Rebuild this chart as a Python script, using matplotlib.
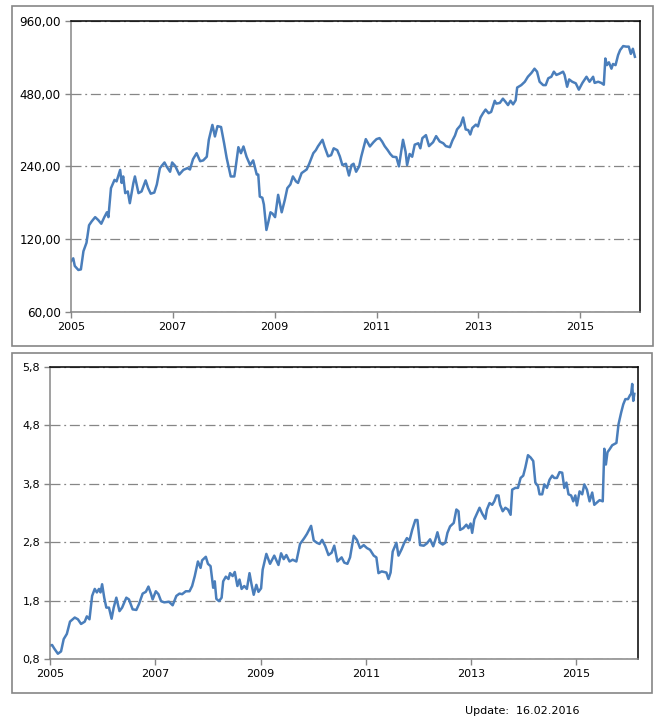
import matplotlib.pyplot as plt
from matplotlib.patches import Rectangle
from matplotlib.ticker import FixedLocator, FuncFormatter, NullLocator

# top chart: index level (log scale)
top_years = [2005.0, 2005.05, 2005.08, 2005.15, 2005.2, 2005.25, 2005.31, 2005.36, 2005.41, 2005.48,
             2005.54, 2005.6, 2005.66, 2005.71, 2005.74, 2005.79, 2005.86, 2005.9, 2005.93, 2005.97,
             2006.0, 2006.03, 2006.07, 2006.12, 2006.16, 2006.23, 2006.26, 2006.33, 2006.39, 2006.47,
             2006.52, 2006.57, 2006.64, 2006.69, 2006.75, 2006.84, 2006.88, 2006.95, 2006.99, 2007.05,
             2007.13, 2007.21, 2007.29, 2007.34, 2007.4, 2007.47, 2007.54, 2007.6, 2007.67, 2007.71,
             2007.78, 2007.83, 2007.88, 2007.95, 2008.01, 2008.06, 2008.14, 2008.21, 2008.23, 2008.29,
             2008.34, 2008.39, 2008.45, 2008.52, 2008.58, 2008.65, 2008.68, 2008.71, 2008.76, 2008.79,
             2008.84, 2008.88, 2008.92, 2008.96, 2009.01, 2009.07, 2009.14, 2009.2, 2009.25, 2009.31,
             2009.36, 2009.42, 2009.46, 2009.53, 2009.63, 2009.68, 2009.76, 2009.81, 2009.85, 2009.94,
             2009.98, 2010.05, 2010.11, 2010.16, 2010.23, 2010.28, 2010.33, 2010.4, 2010.46, 2010.51,
             2010.55, 2010.6, 2010.66, 2010.7, 2010.79, 2010.87, 2010.94, 2011.0, 2011.06, 2011.11,
             2011.16, 2011.22, 2011.27, 2011.32, 2011.39, 2011.44, 2011.49, 2011.52, 2011.57, 2011.6,
             2011.65, 2011.7, 2011.75, 2011.82, 2011.86, 2011.9, 2011.97, 2012.03, 2012.11, 2012.17,
             2012.24, 2012.31, 2012.36, 2012.44, 2012.49, 2012.54, 2012.58, 2012.65, 2012.7, 2012.75,
             2012.8, 2012.84, 2012.88, 2012.95, 2012.99, 2013.04, 2013.09, 2013.14, 2013.2, 2013.25,
             2013.32, 2013.35, 2013.42, 2013.48, 2013.53, 2013.58, 2013.63, 2013.68, 2013.73, 2013.76,
             2013.84, 2013.91, 2013.97, 2014.04, 2014.1, 2014.15, 2014.2, 2014.27, 2014.32, 2014.37,
             2014.43, 2014.48, 2014.53, 2014.59, 2014.66, 2014.69, 2014.74, 2014.78, 2014.84, 2014.91,
             2014.97, 2015.04, 2015.12, 2015.18, 2015.25, 2015.28, 2015.35, 2015.41, 2015.46, 2015.49,
             2015.52, 2015.56, 2015.61, 2015.64, 2015.69, 2015.74, 2015.78, 2015.84, 2015.9, 2015.95,
             2015.99, 2016.03, 2016.07]
top_values = [97, 100, 93, 89.5, 90, 107, 116, 137, 142, 148,
              144, 139, 148, 155, 148, 195, 211, 208, 218, 232,
              205, 218, 186, 189, 169, 205, 218, 186, 189, 210,
              195, 185, 187, 202, 236, 249, 240, 228, 249, 241,
              222, 232, 236, 233, 257, 272, 252, 254, 263, 309,
              356, 319, 352, 349, 299, 260, 218, 218, 232, 288,
              272, 290, 263, 243, 254, 222, 222, 180, 178, 167,
              131, 142, 155, 153, 148, 183, 155, 174, 195, 202,
              218, 208, 205, 225, 233, 246, 272, 280, 290, 309,
              290, 264, 267, 285, 280, 264, 243, 246, 220, 243,
              246, 228, 240, 263, 311, 290, 302, 311, 314, 304,
              291, 280, 270, 263, 262, 240, 280, 309, 276, 243,
              270, 263, 295, 299, 285, 314, 323, 291, 302, 320,
              304, 299, 291, 288, 307, 322, 341, 355, 382, 341,
              339, 325, 346, 357, 351, 382, 398, 412, 398, 403,
              448, 436, 439, 457, 444, 430, 448, 433, 450, 508,
              520, 537, 563, 584, 608, 591, 537, 520, 520, 555,
              563, 591, 573, 580, 591, 573, 512, 549, 537, 529,
              498, 531, 563, 537, 563, 531, 537, 531, 522, 670,
              629, 646, 608, 636, 629, 692, 726, 754, 750, 750,
              700, 735, 681]

# bottom chart: ratio (linear scale)
bot_years = [2005.0, 2005.04, 2005.08, 2005.15, 2005.21, 2005.26, 2005.32, 2005.38, 2005.47, 2005.53,
             2005.59, 2005.66, 2005.7, 2005.75, 2005.8, 2005.85, 2005.89, 2005.93, 2005.96, 2005.99,
             2006.03, 2006.07, 2006.12, 2006.17, 2006.21, 2006.26, 2006.32, 2006.37, 2006.45, 2006.5,
             2006.57, 2006.64, 2006.69, 2006.76, 2006.82, 2006.87, 2006.92, 2006.95, 2007.01, 2007.06,
             2007.11, 2007.17, 2007.26, 2007.33, 2007.4, 2007.46, 2007.51, 2007.58, 2007.65, 2007.7,
             2007.75, 2007.81, 2007.86, 2007.89, 2007.96, 2008.0, 2008.05, 2008.1, 2008.13, 2008.16,
             2008.21, 2008.26, 2008.29, 2008.34, 2008.39, 2008.42, 2008.47, 2008.51, 2008.56, 2008.6,
             2008.64, 2008.69, 2008.74, 2008.79, 2008.83, 2008.87, 2008.92, 2008.96, 2009.01, 2009.04,
             2009.11, 2009.18, 2009.26, 2009.34, 2009.39, 2009.44, 2009.49, 2009.55, 2009.61, 2009.68,
             2009.75, 2009.83, 2009.88, 2009.96, 2010.01, 2010.07, 2010.12, 2010.17, 2010.23, 2010.29,
             2010.35, 2010.4, 2010.46, 2010.54, 2010.59, 2010.65, 2010.7, 2010.77, 2010.83, 2010.89,
             2010.96, 2011.02, 2011.08, 2011.15, 2011.2, 2011.24, 2011.3, 2011.39, 2011.43, 2011.47,
             2011.51, 2011.58, 2011.62, 2011.68, 2011.73, 2011.78, 2011.83, 2011.88, 2011.94, 2011.98,
             2012.03, 2012.1, 2012.16, 2012.22, 2012.28, 2012.32, 2012.36, 2012.41, 2012.46, 2012.51,
             2012.55, 2012.6, 2012.67, 2012.72, 2012.76, 2012.79, 2012.85, 2012.91, 2012.95, 2012.99,
             2013.02, 2013.06, 2013.11, 2013.16, 2013.21, 2013.27, 2013.3, 2013.35, 2013.4, 2013.44,
             2013.48, 2013.52, 2013.55, 2013.6, 2013.65, 2013.7, 2013.75, 2013.78, 2013.84, 2013.89,
             2013.94, 2013.99, 2014.03, 2014.08, 2014.13, 2014.18, 2014.22, 2014.27, 2014.3, 2014.35,
             2014.39, 2014.44, 2014.49, 2014.54, 2014.58, 2014.63, 2014.68, 2014.73, 2014.77, 2014.81,
             2014.85, 2014.9, 2014.94, 2014.98, 2015.01, 2015.06, 2015.11, 2015.15, 2015.2, 2015.25,
             2015.3, 2015.34, 2015.39, 2015.44, 2015.5, 2015.53, 2015.56, 2015.59, 2015.63, 2015.68,
             2015.72, 2015.76, 2015.8, 2015.85, 2015.89, 2015.93, 2015.98, 2016.02, 2016.04, 2016.06,
             2016.08, 2016.1]
bot_values = [1.03, 1.04, 0.98, 0.89, 0.93, 1.14, 1.23, 1.44, 1.51, 1.48,
              1.40, 1.44, 1.53, 1.48, 1.88, 2.0, 1.94, 2.0, 1.94, 2.08,
              1.85, 1.68, 1.68, 1.49, 1.68, 1.85, 1.62, 1.68, 1.85, 1.82,
              1.65, 1.64, 1.74, 1.92, 1.95, 2.04, 1.91, 1.82, 1.96, 1.91,
              1.79, 1.77, 1.78, 1.72, 1.88, 1.92, 1.91, 1.96, 1.96, 2.05,
              2.22, 2.47, 2.36, 2.49, 2.55, 2.43, 2.39, 2.02, 2.13, 1.83,
              1.79, 1.85, 2.13, 2.21, 2.17, 2.27, 2.22, 2.29, 2.05, 2.16,
              2.0, 2.05, 2.0, 2.27, 2.07, 1.90, 2.07, 1.95, 2.01, 2.33,
              2.6, 2.43, 2.57, 2.41, 2.61, 2.51, 2.58, 2.47, 2.50, 2.47,
              2.77, 2.87, 2.94, 3.08, 2.83, 2.79, 2.77, 2.84, 2.73, 2.58,
              2.62, 2.74, 2.47, 2.54, 2.45, 2.43, 2.54, 2.91, 2.84, 2.70,
              2.75, 2.70, 2.67, 2.57, 2.54, 2.27, 2.30, 2.28, 2.17, 2.28,
              2.64, 2.79, 2.57, 2.68, 2.79, 2.87, 2.83, 3.01, 3.18, 3.18,
              2.75, 2.74, 2.78, 2.85, 2.73, 2.84, 2.97, 2.79, 2.76, 2.79,
              2.96, 3.07, 3.13, 3.36, 3.33, 3.01, 3.04, 3.10, 3.04, 3.12,
              2.96, 3.19, 3.29, 3.39, 3.29, 3.20, 3.36, 3.47, 3.44, 3.50,
              3.60, 3.60, 3.44, 3.33, 3.39, 3.36, 3.27, 3.70, 3.73, 3.73,
              3.90, 3.94, 4.08, 4.29, 4.25, 4.19, 3.82, 3.76, 3.62, 3.62,
              3.79, 3.73, 3.87, 3.94, 3.90, 3.90, 4.00, 3.99, 3.73, 3.82,
              3.62, 3.60, 3.50, 3.60, 3.43, 3.67, 3.62, 3.79, 3.70, 3.50,
              3.65, 3.44, 3.48, 3.52, 3.50, 4.40, 4.13, 4.34, 4.39, 4.46,
              4.48, 4.50, 4.82, 5.02, 5.16, 5.25, 5.25, 5.32, 5.34, 5.51,
              5.22, 5.34]

x_ticks = [2005, 2007, 2009, 2011, 2013, 2015]
top_ticks = [60, 120, 240, 480, 960]
bot_ticks = [0.8, 1.8, 2.8, 3.8, 4.8, 5.8]
update_text = 'Update:  16.02.2016'

line_col = '#4a7ebb'
grey = '#868686'
plt.rcParams['font.family'] = 'DejaVu Sans'

fig = plt.figure(figsize=(6.7, 7.21), dpi=100)

# outer frames of the two chart panels
for (x0, y0, x1, y1) in [(12, 6, 653, 346), (12, 353, 652, 693)]:
    fig.patches.append(Rectangle((x0 / 670, 1 - y1 / 721), (x1 - x0) / 670, (y1 - y0) / 721,
                                 transform=fig.transFigure, fill=False, ec=grey, lw=1.2))


def style(ax, ticks, fmt, ysize):
    ax.set_xlim(2005, 2016.17)
    ax.xaxis.set_major_locator(FixedLocator(x_ticks))
    ax.xaxis.set_major_formatter(FuncFormatter(lambda v, p: '%d' % v))
    ax.yaxis.set_major_locator(FixedLocator(ticks))
    ax.yaxis.set_minor_locator(NullLocator())
    ax.yaxis.set_major_formatter(FuncFormatter(lambda v, p: (fmt % v).replace('.', ',')))
    ax.grid(axis='y', color=grey, ls=(0, (8, 3, 1.5, 3)), lw=0.9)
    ax.set_axisbelow(True)
    for s in ['top', 'right']:
        ax.spines[s].set_color('black')
        ax.spines[s].set_linewidth(1.1)
    for s in ['left', 'bottom']:
        ax.spines[s].set_color(grey)
        ax.spines[s].set_linewidth(1.1)
    ax.tick_params(direction='out', length=4, width=1, color=grey, labelsize=8, pad=3)
    ax.tick_params(axis='y', labelsize=ysize)


ax1 = fig.add_axes([70.7 / 670, 1 - 312 / 721, (640 - 70.7) / 670, (312 - 20.7) / 721])
ax1.plot(top_years, top_values, color=line_col, lw=1.8)
ax1.set_yscale('log')
ax1.set_ylim(60, 960)
style(ax1, top_ticks, '%.2f', 8.6)

ax2 = fig.add_axes([50 / 670, 1 - 659 / 721, (638 - 50) / 670, (659 - 367) / 721])
ax2.plot(bot_years, bot_values, color=line_col, lw=1.8)
ax2.set_ylim(0.8, 5.8)
style(ax2, bot_ticks, '%.1f', 8)

fig.text(465 / 670, 1 - 711 / 721, update_text, fontsize=8, va='center', ha='left')

fig.savefig('out.png', dpi=100)
